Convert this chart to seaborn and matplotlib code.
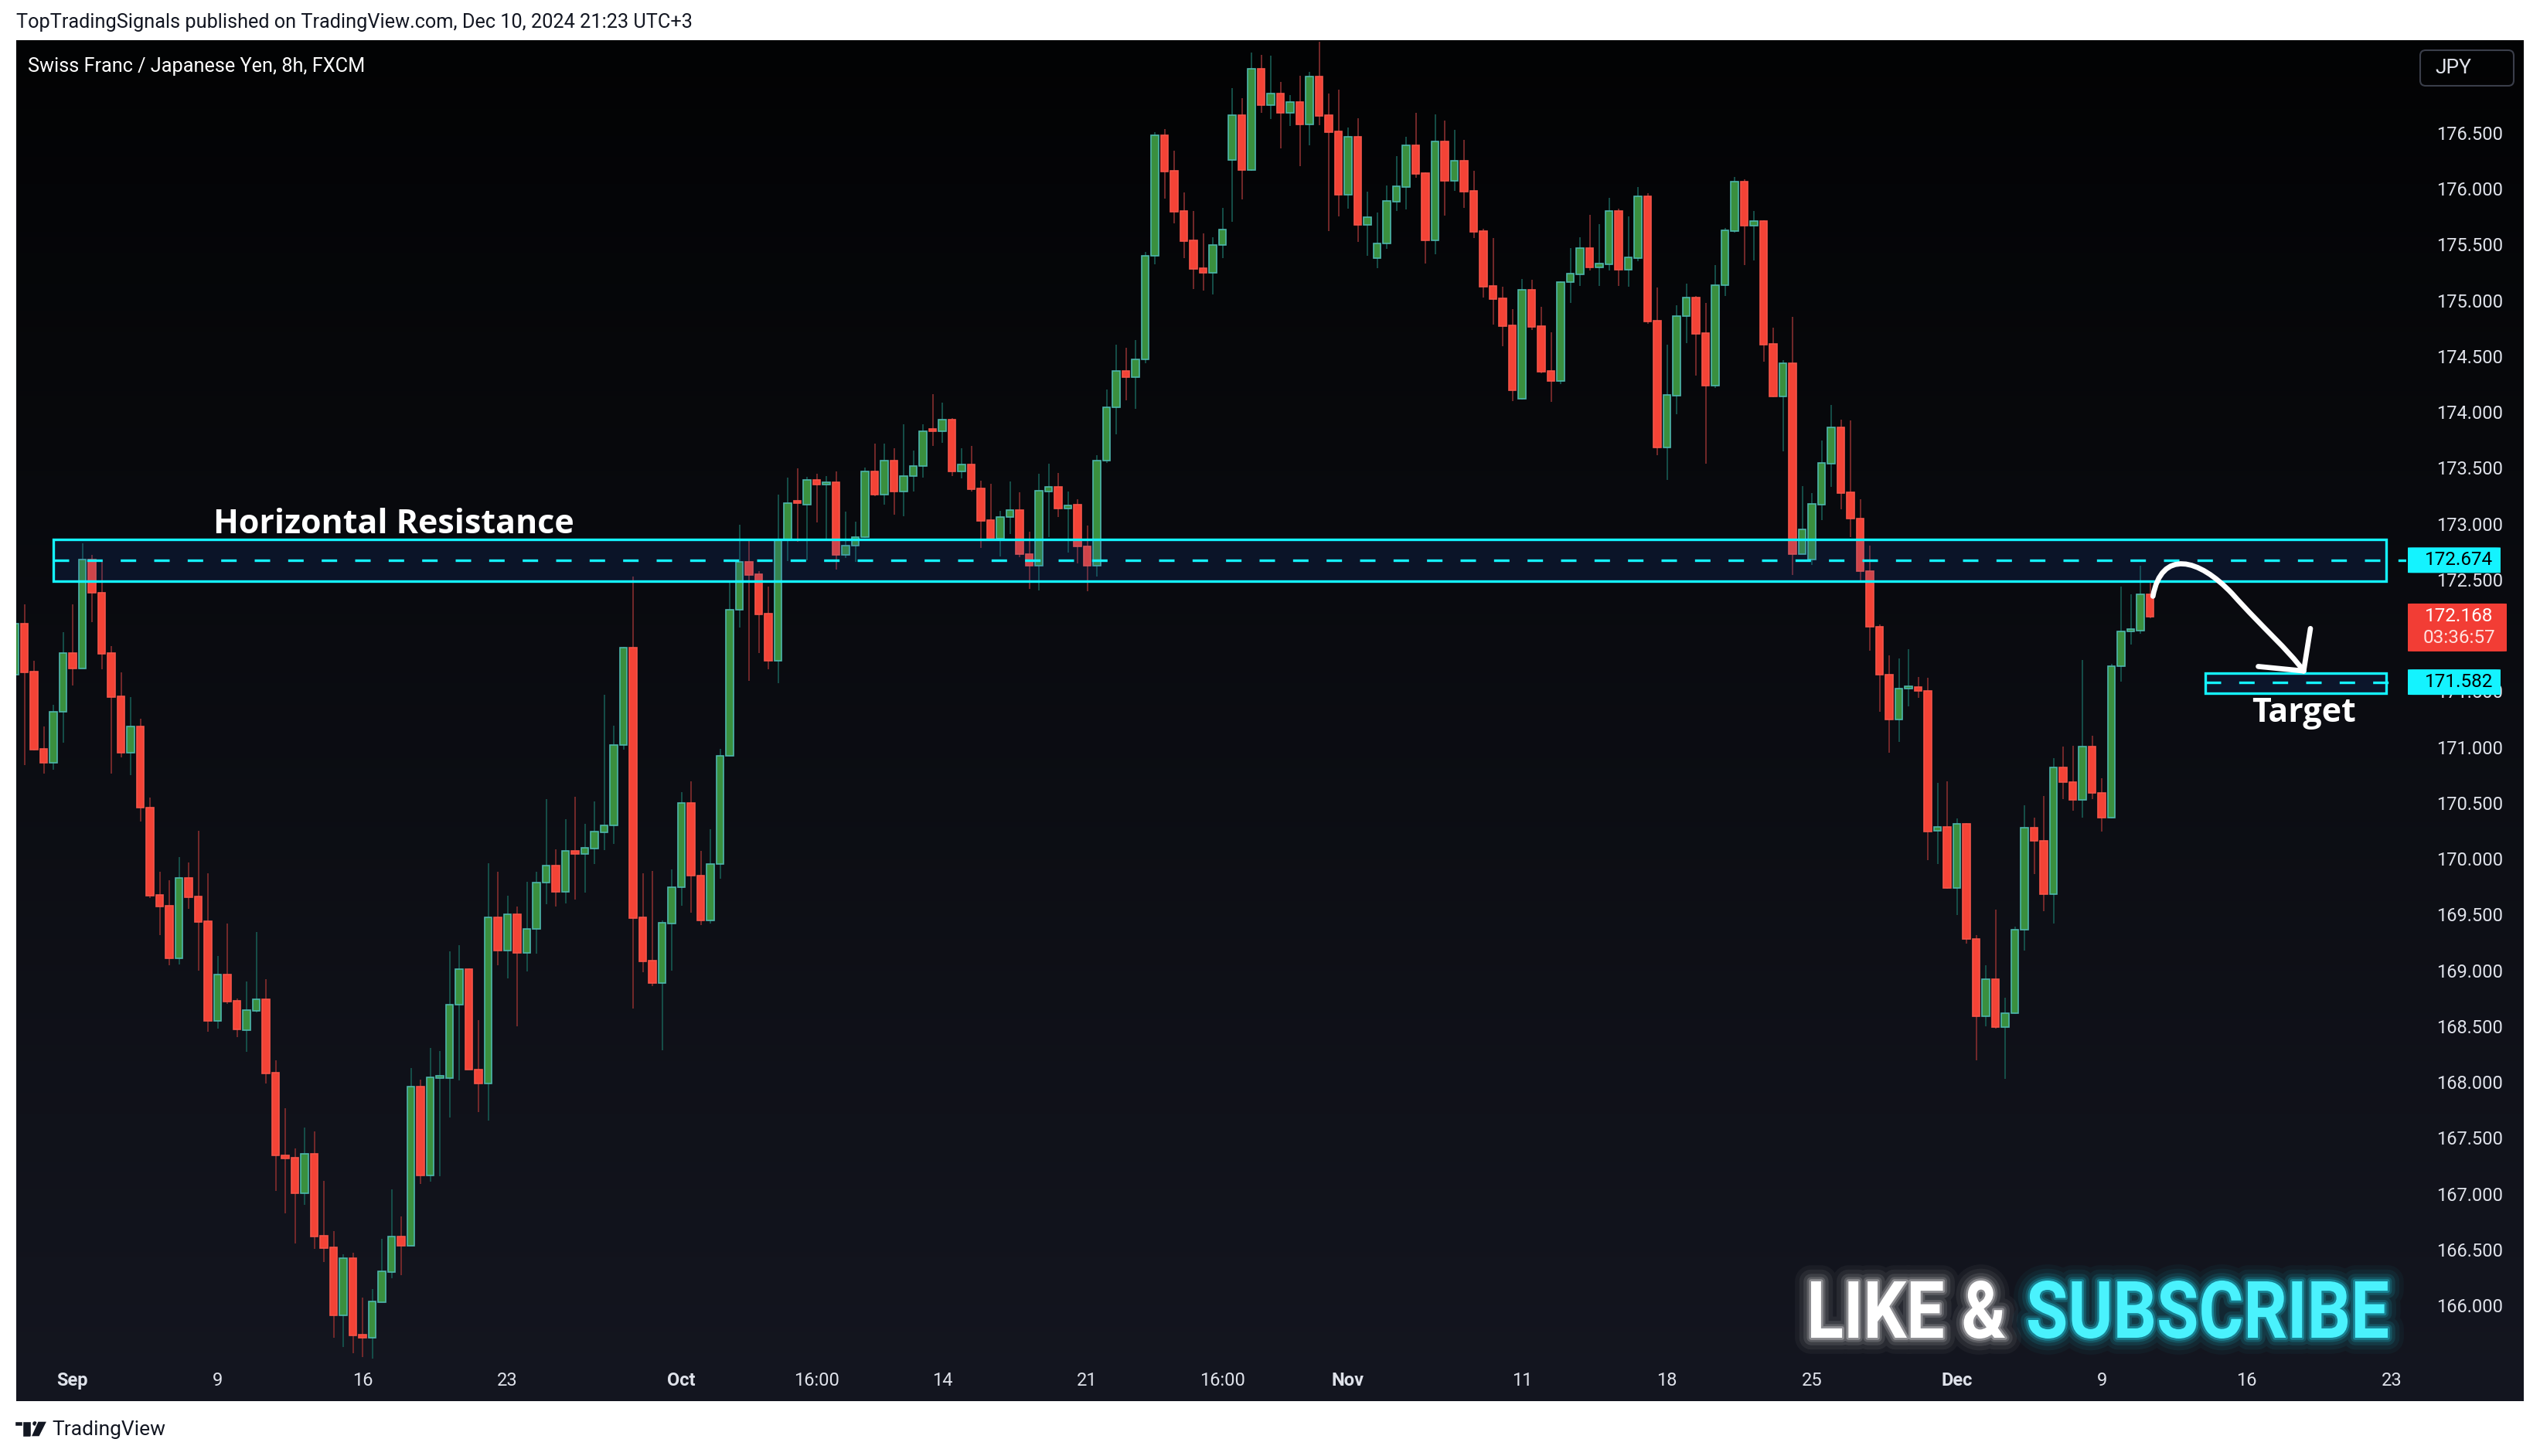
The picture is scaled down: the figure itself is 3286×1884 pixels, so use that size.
import numpy as np
import pandas as pd
import matplotlib.pyplot as plt
import seaborn as sns
from matplotlib.patches import Rectangle, FancyBboxPatch, PathPatch, Polygon, Circle
from matplotlib.path import Path
from matplotlib.textpath import TextPath
from matplotlib.font_manager import FontProperties
from matplotlib.transforms import Affine2D, IdentityTransform, blended_transform_factory

W, H = 3286, 1884

# CHF/JPY 8h candles
OPEN = [
    171.647, 172.104, 171.676, 170.984, 170.863, 171.313, 171.843, 171.706, 172.681, 172.382,
    171.843, 171.455, 170.952, 171.183, 170.456, 169.675, 169.578, 169.110, 169.829, 169.662,
    169.441, 168.550, 168.962, 168.727, 168.468, 168.640, 168.742, 168.085, 167.341, 167.322,
    167.007, 167.361, 166.624, 166.520, 165.914, 166.424, 165.739, 165.713, 166.031, 166.299,
    166.617, 166.533, 167.958, 167.164, 168.038, 168.036, 168.697, 169.010, 168.109, 167.989,
    169.476, 169.177, 169.503, 169.154, 169.369, 169.784, 169.939, 169.704, 170.069, 170.046,
    170.093, 170.237, 170.301, 171.019, 171.891, 169.476, 169.087, 168.889, 169.422, 169.744,
    170.502, 169.851, 169.449, 169.952, 170.925, 172.228, 172.656, 172.548, 172.195, 171.771,
    172.862, 173.188, 173.169, 173.394, 173.348, 173.371, 172.718, 172.806, 172.881, 173.472,
    173.263, 173.567, 173.286, 173.430, 173.518, 173.835, 173.829, 173.929, 173.470, 173.534,
    173.318, 173.034, 172.865, 173.059, 173.120, 172.726, 172.623, 173.290, 173.328, 173.137,
    173.173, 172.795, 172.623, 173.562, 174.040, 174.366, 174.310, 174.474, 175.397, 176.476,
    176.158, 175.800, 175.535, 175.286, 175.249, 175.494, 176.255, 176.656, 176.170, 177.072,
    176.751, 176.850, 176.682, 176.774, 176.578, 177.002, 176.656, 176.513, 175.948, 176.463,
    175.678, 175.376, 175.512, 175.886, 176.018, 176.389, 176.140, 175.540, 176.421, 176.073,
    176.248, 175.978, 175.621, 175.129, 175.019, 174.776, 174.121, 175.095, 174.769, 174.366,
    174.280, 175.162, 175.236, 175.466, 175.298, 175.326, 175.802, 175.275, 175.381, 175.932,
    174.818, 173.683, 174.149, 174.859, 175.027, 174.707, 174.234, 175.133, 175.624, 176.064,
    175.669, 175.710, 174.609, 174.142, 174.438, 172.731, 172.683, 173.173, 173.541, 173.863,
    173.280, 173.045, 172.573, 172.076, 171.647, 171.244, 171.522, 171.537, 171.502, 170.252,
    170.284, 169.737, 170.311, 169.280, 168.589, 168.924, 168.491, 168.616, 169.362, 170.276,
    170.163, 169.682, 170.819, 170.686, 170.526, 171.002, 170.592, 170.366, 171.725, 172.037,
    172.041, 172.369,
]
HIGH = [
    172.200, 172.279, 171.773, 171.183, 171.377, 172.029, 172.279, 172.826, 172.721, 172.665,
    171.905, 171.668, 171.447, 171.253, 170.548, 169.883, 169.807, 170.015, 169.966, 170.249,
    169.869, 169.129, 169.420, 168.750, 168.900, 169.343, 168.921, 168.195, 167.765, 167.406,
    167.593, 167.559, 167.117, 166.666, 166.458, 166.471, 166.070, 166.148, 166.596, 167.038,
    166.796, 168.127, 168.023, 168.307, 168.278, 169.171, 169.226, 169.018, 168.554, 169.959,
    169.885, 169.670, 169.573, 169.794, 169.885, 170.536, 170.083, 170.355, 170.556, 170.314,
    170.512, 171.469, 171.193, 171.898, 172.529, 169.868, 169.892, 169.449, 169.905, 170.596,
    170.693, 170.069, 170.264, 170.984, 172.473, 172.992, 172.858, 172.577, 172.437, 173.260,
    173.413, 173.495, 173.420, 173.449, 173.427, 173.469, 173.110, 173.018, 173.505, 173.717,
    173.717, 173.675, 173.890, 173.655, 173.890, 174.161, 174.085, 173.946, 173.676, 173.699,
    173.384, 173.360, 173.115, 173.379, 173.282, 172.931, 173.448, 173.540, 173.457, 173.290,
    173.217, 172.984, 173.615, 174.202, 174.605, 174.577, 174.646, 175.436, 176.506, 176.534,
    176.340, 175.967, 175.800, 175.600, 175.565, 175.828, 176.901, 176.811, 177.219, 177.198,
    177.192, 176.956, 176.839, 177.012, 177.046, 177.318, 176.852, 176.887, 176.548, 176.631,
    175.973, 175.787, 176.029, 176.292, 176.465, 176.680, 176.147, 176.666, 176.610, 176.527,
    176.437, 176.161, 175.642, 175.558, 175.122, 174.922, 175.192, 175.185, 174.942, 174.714,
    175.170, 175.468, 175.565, 175.766, 175.683, 175.918, 175.821, 175.754, 176.016, 175.960,
    175.116, 174.604, 174.958, 175.150, 175.039, 174.977, 175.316, 175.650, 176.105, 176.085,
    175.802, 175.720, 174.756, 174.462, 174.854, 173.339, 173.277, 173.745, 174.065, 173.933,
    173.924, 173.221, 172.803, 172.100, 171.823, 171.795, 171.877, 171.627, 171.620, 170.682,
    170.694, 170.362, 170.320, 169.319, 169.045, 169.545, 168.756, 169.393, 170.479, 170.370,
    170.561, 170.901, 171.006, 171.014, 171.780, 171.104, 170.721, 171.745, 172.440, 172.369,
    172.623, 172.471,
]
LOW = [
    171.600, 170.841, 170.970, 170.766, 170.798, 171.038, 171.552, 171.706, 172.118, 171.698,
    170.766, 170.909, 170.747, 170.335, 169.651, 169.317, 169.048, 169.056, 169.554, 168.997,
    168.450, 168.480, 168.700, 168.400, 168.270, 168.622, 167.986, 167.028, 166.828, 166.557,
    166.898, 166.507, 166.390, 165.713, 165.630, 165.575, 165.541, 165.526, 166.026, 166.244,
    166.270, 166.533, 167.088, 167.111, 167.158, 167.682, 168.018, 168.109, 167.734, 167.654,
    169.046, 168.929, 168.499, 168.989, 169.150, 169.596, 169.573, 169.600, 169.633, 169.697,
    169.952, 170.076, 170.133, 170.980, 168.657, 168.983, 168.862, 168.285, 169.000, 169.580,
    169.516, 169.405, 169.422, 169.821, 170.915, 172.074, 171.591, 171.843, 171.696, 171.575,
    172.669, 172.842, 172.675, 173.015, 172.858, 172.590, 172.695, 172.659, 172.870, 173.250,
    173.172, 173.080, 173.064, 173.289, 173.410, 173.698, 173.726, 173.429, 173.407, 173.290,
    172.784, 172.850, 172.709, 172.906, 172.700, 172.417, 172.403, 172.881, 173.062, 172.745,
    172.648, 172.397, 172.525, 173.548, 173.804, 174.107, 174.027, 174.435, 175.325, 175.911,
    175.692, 175.381, 175.104, 175.090, 175.055, 175.381, 175.706, 175.907, 176.160, 176.682,
    176.626, 176.363, 176.564, 176.204, 176.391, 176.571, 175.623, 175.754, 175.824, 175.526,
    175.401, 175.291, 175.464, 175.801, 175.817, 176.098, 175.330, 175.413, 175.761, 175.983,
    175.831, 175.561, 175.028, 174.786, 174.592, 174.100, 174.110, 174.737, 174.350, 174.091,
    174.250, 174.979, 175.129, 175.268, 175.129, 175.268, 175.131, 175.124, 175.352, 174.787,
    173.616, 173.394, 173.981, 174.618, 174.327, 173.539, 174.217, 175.039, 175.610, 175.316,
    175.359, 174.452, 174.130, 173.649, 172.543, 172.725, 172.634, 173.034, 173.332, 173.130,
    172.881, 172.483, 171.862, 171.315, 170.948, 171.049, 171.362, 171.444, 169.991, 169.955,
    169.730, 169.495, 169.237, 168.198, 168.503, 168.480, 168.026, 168.610, 169.178, 169.866,
    169.534, 169.417, 170.534, 170.432, 170.366, 170.534, 170.245, 170.360, 171.584, 171.916,
    172.014, 172.155,
]
CLOSE = [
    172.104, 171.671, 170.976, 170.863, 171.315, 171.843, 171.706, 172.681, 172.379, 171.838,
    171.447, 170.952, 171.183, 170.456, 169.670, 169.573, 169.110, 169.829, 169.657, 169.436,
    168.550, 168.962, 168.722, 168.470, 168.643, 168.742, 168.080, 167.341, 167.320, 167.007,
    167.361, 166.619, 166.513, 165.914, 166.424, 165.731, 165.713, 166.036, 166.307, 166.617,
    166.533, 167.958, 167.164, 168.041, 168.049, 168.697, 169.010, 168.109, 167.989, 169.476,
    169.177, 169.503, 169.154, 169.372, 169.788, 169.939, 169.704, 170.069, 170.046, 170.096,
    170.244, 170.301, 171.019, 171.891, 169.469, 169.080, 168.889, 169.425, 169.744, 170.502,
    169.851, 169.449, 169.952, 170.925, 172.228, 172.656, 172.542, 172.189, 171.771, 172.862,
    173.185, 173.182, 173.394, 173.348, 173.368, 172.718, 172.806, 172.881, 173.472, 173.263,
    173.567, 173.286, 173.430, 173.518, 173.828, 173.828, 173.929, 173.470, 173.534, 173.309,
    173.029, 172.865, 173.059, 173.120, 172.726, 172.623, 173.293, 173.328, 173.134, 173.167,
    172.795, 172.623, 173.562, 174.040, 174.366, 174.310, 174.474, 175.397, 176.476, 176.156,
    175.796, 175.533, 175.284, 175.249, 175.494, 175.632, 176.656, 176.170, 177.072, 176.751,
    176.850, 176.682, 176.774, 176.578, 177.002, 176.654, 176.509, 175.948, 176.463, 175.678,
    175.743, 175.512, 175.888, 176.022, 176.389, 176.135, 175.540, 176.421, 176.073, 176.248,
    175.976, 175.616, 175.125, 175.014, 174.772, 174.197, 175.095, 174.765, 174.363, 174.280,
    175.164, 175.238, 175.466, 175.298, 175.328, 175.798, 175.275, 175.386, 175.932, 174.811,
    173.683, 174.154, 174.859, 175.027, 174.703, 174.234, 175.138, 175.629, 176.064, 175.669,
    175.710, 174.604, 174.142, 174.438, 172.731, 172.949, 173.178, 173.546, 173.863, 173.276,
    173.045, 172.573, 172.076, 171.647, 171.244, 171.522, 171.537, 171.502, 170.245, 170.284,
    169.737, 170.311, 169.280, 168.589, 168.924, 168.491, 168.616, 169.362, 170.276, 170.163,
    169.682, 170.819, 170.686, 170.526, 171.002, 170.592, 170.366, 171.725, 172.033, 172.049,
    172.369, 172.168,
]

TICK_POS = [6, 21, 36, 51, 69, 83, 96, 111, 125, 138, 156, 171, 186, 201, 216, 231, 246]
TICK_LABELS = ["Sep", "9", "16", "23", "Oct", "16:00", "14", "21", "16:00",
               "Nov", "11", "18", "25", "Dec", "9", "16", "23"]
MONTHS = {"Sep", "Oct", "Nov", "Dec"}
PRICE_TICKS = [166.0, 166.5, 167.0, 167.5, 168.0, 168.5, 169.0, 169.5, 170.0, 170.5, 171.0,
               171.5, 172.0, 172.5, 173.0, 173.5, 174.0, 174.5, 175.0, 175.5, 176.0, 176.5]
HIDDEN_TICKS = {172.0}  # covered by the last-price tag in the reference

RES_LEVEL, RES_TOP, RES_BOTTOM = 172.674, 172.862, 172.488
TGT_LEVEL, TGT_TOP, TGT_BOTTOM = 171.582, 171.663, 171.483
LAST_PRICE = 172.168
COUNTDOWN = "03:36:57"

CYAN = "#14f3ff"
UP_FACE, UP_EDGE, UP_WICK = "#3a8f3e", "#4db6ac", "#16544d"
DN_FACE, DN_EDGE, DN_WICK = "#f44336", "#f55449", "#7c2b2c"
AXIS_TXT = "#dfe2ea"

sns.set_theme(style="dark")
plt.rcParams["font.family"] = ["Roboto", "DejaVu Sans"]

df = pd.DataFrame({"open": OPEN, "high": HIGH, "low": LOW, "close": CLOSE})
df["idx"] = np.arange(len(df))
df["up"] = df["close"] >= df["open"]


def fx(x):
    return x / W


def fy(y):
    return 1 - y / H


fig = plt.figure(figsize=(W / 100, H / 100), dpi=100, facecolor="white")

# dark chart panel with vertical gradient
bg = fig.add_axes([fx(21), fy(1813), fx(3265) - fx(21), fy(52) - fy(1813)])
bg.set_axis_off()
grad = np.linspace(0, 1, 256)[:, None, None]
top_c = np.array([0.010, 0.012, 0.016])
bot_c = np.array([0.078, 0.086, 0.125])
bg.imshow(top_c + (bot_c - top_c) * grad, aspect="auto", extent=[0, 1, 0, 1], origin="upper")
bg.set_xlim(0, 1)
bg.set_ylim(0, 1)

ax = fig.add_axes([fx(21), fy(1767), fx(3113) - fx(21), fy(52) - fy(1767)])
ax.set_zorder(2)
ax.patch.set_alpha(0)
ax.grid(False)
sns.despine(ax=ax, left=True, bottom=True)
ax.set_xlim(0.16, 247.52)
ax.set_ylim(165.462, 177.330)

# candles
for up, face, edge, wick in [(True, UP_FACE, UP_EDGE, UP_WICK), (False, DN_FACE, DN_EDGE, DN_WICK)]:
    sub = df[df["up"] == up]
    ax.vlines(sub["idx"], sub["low"], sub["high"], color=wick, lw=1.3, zorder=2)
    lo = np.minimum(sub["open"], sub["close"])
    hgt = np.maximum((sub["close"] - sub["open"]).abs(), 0.022)
    ax.bar(sub["idx"], hgt, bottom=lo, width=0.76, color=face, edgecolor=edge,
           linewidth=1.2, zorder=3)

# resistance and target zones
box_left, box_right, x_end = 4.0, 245.4, 247.52
ax.add_patch(Rectangle((box_left, RES_BOTTOM), box_right - box_left, RES_TOP - RES_BOTTOM,
                       facecolor=(0.1, 0.3, 0.7, 0.16), edgecolor=CYAN, lw=2.4, zorder=4))
ax.plot([box_left, x_end], [RES_LEVEL] * 2, color=CYAN, lw=2.4, dashes=(6, 7), zorder=5)
tgt_left = 226.7
ax.add_patch(Rectangle((tgt_left, TGT_BOTTOM), box_right - tgt_left, TGT_TOP - TGT_BOTTOM,
                       facecolor=(0.1, 0.3, 0.7, 0.16), edgecolor=CYAN, lw=2.4, zorder=4))
ax.plot([tgt_left, x_end], [TGT_LEVEL] * 2, color=CYAN, lw=2.4, dashes=(6, 7), zorder=5)

ax.text(20.6, 172.915, "Horizontal Resistance", color="white", fontsize=31,
        family=["Open Sans", "DejaVu Sans"], fontweight="bold", ha="left", va="baseline", zorder=6)
ax.text(236.9, 171.227, "Target", color="white", fontsize=31,
        family=["Open Sans", "DejaVu Sans"], fontweight="bold", ha="center", va="baseline", zorder=6)

# hand-drawn projection arrow from the last candle to the target
last = len(df) - 1
verts = [(last + 0.3, HIGH[-1] - 0.12), (last + 1.2, RES_LEVEL + 0.1),
         (last + 5.0, RES_LEVEL + 0.02), (last + 8.5, RES_LEVEL - 0.3),
         (last + 11.8, RES_LEVEL - 0.62), (last + 14.2, TGT_LEVEL + 0.3),
         (last + 15.9, TGT_LEVEL + 0.1)]
codes = [Path.MOVETO, Path.CURVE4, Path.CURVE4, Path.CURVE4, Path.CURVE4, Path.CURVE4, Path.CURVE4]
ax.add_patch(PathPatch(Path(verts, codes), facecolor="none", edgecolor="white", lw=4.8,
                       capstyle="round", joinstyle="round", zorder=7))
tip = verts[-1]
ax.plot([tip[0], last + 16.6], [tip[1], TGT_LEVEL + 0.48], color="white", lw=4.8,
        solid_capstyle="round", zorder=7)
ax.plot([tip[0], last + 11.2], [tip[1], TGT_LEVEL + 0.14], color="white", lw=4.8,
        solid_capstyle="round", zorder=7)

# axes ticks
ax.yaxis.tick_right()
ax.set_yticks(PRICE_TICKS)
ax.set_yticklabels(["" if v in HIDDEN_TICKS else f"{v:.3f}" for v in PRICE_TICKS])
ax.tick_params(axis="y", length=0, pad=28, labelsize=17, labelcolor=AXIS_TXT)
ax.set_xticks(TICK_POS)
ax.set_xticklabels(TICK_LABELS)
ax.tick_params(axis="x", length=0, pad=6, labelsize=17, labelcolor=AXIS_TXT)
for lbl in ax.get_xticklabels():
    if lbl.get_text() in MONTHS:
        lbl.set_fontweight("bold")

# price tags on the scale
tr = blended_transform_factory(fig.transFigure, ax.transData)
px = 1 / 144.5


def price_tag(y_center, h, face, right):
    fig.add_artist(FancyBboxPatch((fx(3115), y_center - h / 2), fx(right) - fx(3115), h,
                                  boxstyle="round,pad=0,rounding_size=0.002",
                                  facecolor=face, edgecolor="none", transform=tr, zorder=5))


price_tag(RES_LEVEL, 33 * px, CYAN, 3235)
fig.text(fx(3181), RES_LEVEL, f"{RES_LEVEL:.3f}", transform=tr, color="black", fontsize=17.5,
         ha="center", va="center", zorder=6)
price_tag(TGT_LEVEL, 33 * px, CYAN, 3235)
fig.text(fx(3181), TGT_LEVEL, f"{TGT_LEVEL:.3f}", transform=tr, color="black", fontsize=17.5,
         ha="center", va="center", zorder=6)
price_tag(LAST_PRICE - 14 * px, 62 * px, "#f23d35", 3243)
fig.text(fx(3181), LAST_PRICE, f"{LAST_PRICE:.3f}", transform=tr, color="white", fontsize=17.5,
         ha="center", va="center", zorder=6)
fig.text(fx(3181), LAST_PRICE - 28 * px, COUNTDOWN, transform=tr, color="#ffe1de", fontsize=17.5,
         ha="center", va="center", zorder=6)

# currency button
fig.add_artist(FancyBboxPatch((3131, H - 111), 121, 46, boxstyle="round,pad=0,rounding_size=7",
                              facecolor="none", edgecolor="#3a3e4a", lw=1.5,
                              transform=IdentityTransform()))
fig.text(fx(3150), fy(88), "JPY", color=AXIS_TXT, fontsize=19, ha="left", va="center")

# header / title / footer
fig.text(fx(21), fy(29), "TopTradingSignals published on TradingView.com, Dec 10, 2024 21:23 UTC+3",
         color="#131722", fontsize=18.2, ha="left", va="center")
fig.text(fx(36), fy(86), "Swiss Franc / Japanese Yen, 8h, FXCM", color="white", fontsize=18.2,
         ha="left", va="center", zorder=5)

ident = IdentityTransform()
logo = "#131722"
fig.add_artist(Rectangle((19, H - 1845), 21, 6, facecolor=logo, transform=ident))
fig.add_artist(Rectangle((29, H - 1859), 11, 20, facecolor=logo, transform=ident))
fig.add_artist(Circle((45, H - 1842), 3.5, facecolor=logo, transform=ident))
fig.add_artist(Polygon([(49, H - 1839), (61, H - 1839), (51, H - 1859), (40, H - 1859)],
                       facecolor=logo, transform=ident))
fig.text(fx(67), fy(1850), "TradingView", color=logo, fontsize=19, ha="left", va="center")

# LIKE & SUBSCRIBE with glow
fp = FontProperties(family="Roboto", weight="bold")
cap = TextPath((0, 0), "I", size=100, prop=fp).get_extents().height


def glow_text(s, x_left, width, baseline, cap_h, color, glow):
    tp = TextPath((0, 0), s, size=100, prop=fp)
    ext = tp.get_extents()
    t = Affine2D().translate(-ext.x0, 0).scale(width / ext.width, cap_h / cap).translate(x_left, H - baseline)
    path = t.transform_path(tp)
    for lw, a in [(30, 0.04), (22, 0.06), (14, 0.1), (8, 0.16), (4, 0.3)]:
        fig.add_artist(PathPatch(path, facecolor="none", edgecolor=glow, lw=lw, alpha=a,
                                 joinstyle="round", transform=ident))
    fig.add_artist(PathPatch(path, facecolor=color, edgecolor="none", transform=ident))


glow_text("LIKE &", 2343, 251, 1731, 73, "white", "white")
glow_text("SUBSCRIBE", 2624, 465, 1731, 73, "#4af2fd", "#22e6ff")

fig.savefig("out.png", dpi=100, facecolor="white")
